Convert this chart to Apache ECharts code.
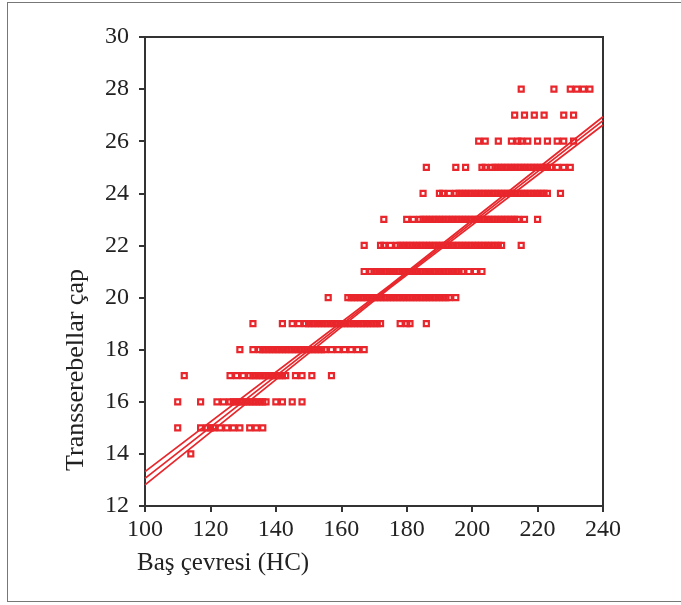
<!DOCTYPE html>
<html>
<head>
<meta charset="utf-8">
<script src="https://cdn.jsdelivr.net/npm/echarts@6/dist/echarts.min.js"></script>
<style>
  body { margin: 0; background: #fff; }
  #frame { position: absolute; left: 7px; top: 2px; width: 720px; height: 600px; border: 1px solid #777; box-sizing: border-box; }
  #main { position: absolute; left: 0; top: 0; width: 681px; height: 605px; }
</style>
</head>
<body>
<div id="frame"></div>
<div id="main"></div>
<script>
// x = Baş çevresi (HC), one array per transserebellar çap value
const tcLevels = [14, 15, 16, 17, 18, 19, 20, 21, 22, 23, 24, 25, 26, 27, 28];
const hc14 = [114];
const hc15 = [110, 117, 119, 120, 121, 123, 125, 127, 129, 132, 134, 136];
const hc16 = [110, 117, 122, 124, 126, 127, 128, 129, 130, 131, 132, 133, 134, 135, 136, 137, 140, 142, 145, 148];
const hc17 = [112, 126, 128, 130, 132, 133, 134, 135, 136, 137, 138, 139, 140, 141, 142, 143, 146, 148, 151, 157];
const hc18 = [129, 133, 135, 136, 137, 138, 139, 140, 141, 142, 143, 144, 145, 146, 147, 148, 149, 150, 151, 152,
  153, 154, 155, 157, 159, 161, 163, 165, 167];
const hc19 = [133, 142, 145, 147, 149, 150, 151, 152, 153, 154, 155, 156, 157, 158, 159, 160, 161, 162, 163, 164,
  165, 166, 167, 168, 169, 170, 171, 172, 178, 180, 181, 186];
const hc20 = [156, 162, 163, 164, 165, 166, 167, 168, 169, 170, 171, 172, 173, 174, 175, 176, 177, 178, 179, 180,
  181, 182, 183, 184, 185, 186, 187, 188, 189, 190, 191, 192, 193, 195];
const hc21 = [167, 169, 170, 171, 172, 173, 174, 175, 176, 177, 178, 179, 180, 181, 182, 183, 184, 185, 186, 187,
  188, 189, 190, 191, 192, 193, 194, 195, 196, 197, 199, 201, 203];
const hc22 = [167, 172, 173, 175, 177, 178, 179, 180, 181, 182, 183, 184, 185, 186, 187, 188, 189, 190, 191, 192,
  193, 194, 195, 196, 197, 198, 199, 200, 201, 202, 203, 204, 205, 206, 207, 208, 209, 215];
const hc23 = [173, 180, 182, 184, 185, 186, 187, 188, 189, 190, 191, 192, 193, 194, 195, 196, 197, 198, 199, 200,
  201, 202, 203, 204, 205, 206, 207, 208, 209, 210, 211, 212, 213, 214, 216, 220];
const hc24 = [185, 190, 191, 193, 195, 196, 197, 198, 199, 200, 201, 202, 203, 204, 205, 206, 207, 208, 209, 210,
  211, 212, 213, 214, 215, 216, 217, 218, 219, 220, 221, 222, 223, 227];
const hc25 = [186, 195, 198, 203, 204, 206, 207, 208, 209, 210, 211, 212, 213, 214, 215, 216, 217, 218, 219, 220,
  221, 222, 223, 224, 226, 228, 230];
const hc26 = [202, 204, 208, 212, 214, 215, 217, 220, 223, 226, 228, 231];
const hc27 = [213, 216, 219, 222, 228, 231];
const hc28 = [215, 225, 230, 232, 234, 236];

// fitted line with its two bands
const lineHc = [100, 175, 240];
const tcUpper = [13.32, 20.48, 26.94];
const tcFit = [13.06, 20.43, 26.79];
const tcLower = [12.81, 20.38, 26.62];

const red = '#e8262b';
const font = '"Liberation Serif", "Times New Roman", serif';

const hcRows = [hc14, hc15, hc16, hc17, hc18, hc19, hc20, hc21, hc22, hc23, hc24, hc25, hc26, hc27, hc28];
const points = [];
hcRows.forEach((row, i) => {
  row.forEach(hc => points.push([hc, tcLevels[i]]));
});

const lineData = vals => lineHc.map((hc, i) => [hc, vals[i]]);
const bandLine = (name, vals) => ({
  name: name,
  type: 'line',
  data: lineData(vals),
  symbol: 'none',
  silent: true,
  lineStyle: { color: red, width: 1.8 },
  z: 3
});

const myChart = echarts.init(document.getElementById('main'));
const option = {
  animation: false,
  grid: {
    left: 145, right: 78, top: 37, bottom: 99,
    show: true, borderColor: '#333', borderWidth: 2
  },
  xAxis: {
    type: 'value', min: 100, max: 240, interval: 20,
    axisLine: { lineStyle: { color: '#333', width: 2 } },
    axisTick: { length: 6, lineStyle: { color: '#333', width: 2 } },
    axisLabel: { fontFamily: font, fontSize: 24, color: '#222', margin: 12 },
    splitLine: { show: false }
  },
  yAxis: {
    type: 'value', min: 12, max: 30, interval: 2,
    axisLine: { show: true, lineStyle: { color: '#333', width: 2 } },
    axisTick: { show: true, length: 6, lineStyle: { color: '#333', width: 2 } },
    axisLabel: { fontFamily: font, fontSize: 24, color: '#222', margin: 16 },
    splitLine: { show: false }
  },
  graphic: [
    {
      type: 'text', left: 137, top: 551,
      style: { text: 'Baş çevresi (HC)', fontFamily: font, fontSize: 25, fill: '#222' }
    },
    {
      type: 'text', x: 76, y: 370, rotation: Math.PI / 2,
      style: { text: 'Transserebellar çap', fontFamily: font, fontSize: 26, fill: '#222', align: 'center', verticalAlign: 'middle' }
    }
  ],
  series: [
    {
      name: 'TCD',
      type: 'scatter',
      data: points,
      symbol: 'rect',
      symbolSize: 5,
      itemStyle: { color: 'rgba(255,255,255,0)', borderColor: red, borderWidth: 2.2, opacity: 1 },
      z: 2
    },
    bandLine('upper', tcUpper),
    bandLine('fit', tcFit),
    bandLine('lower', tcLower)
  ]
};
myChart.setOption(option);
</script>
</body>
</html>
